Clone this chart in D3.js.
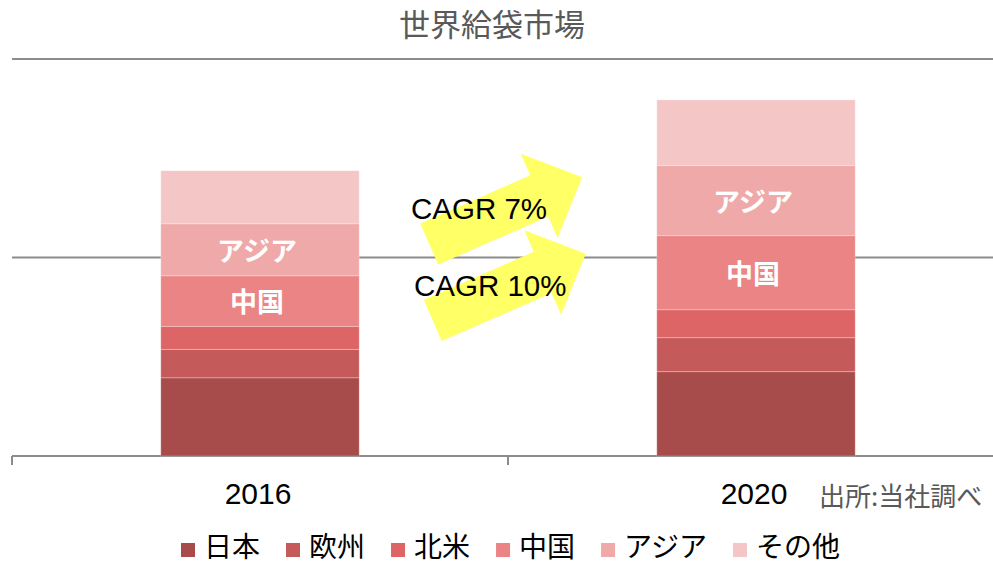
<!DOCTYPE html>
<html>
<head>
<meta charset="utf-8">
<script src="https://cdn.jsdelivr.net/npm/d3@7"></script>
<style>
  body { margin: 0; background: #fff; }
  .grid line { stroke: #8c8c8c; stroke-width: 2; }
  text { font-family: "Noto Sans CJK JP", "Noto Sans", sans-serif; }
  .num { font-family: "Liberation Sans", Arial, sans-serif; }
</style>
</head>
<body>
<div class="chart"></div>
<script>
// chart data
var years = ["2016", "2020"];
var regions = ["日本", "欧州", "北米", "中国", "アジア", "その他"];
var japan  = [39.4, 42.5];
var europe = [14.3, 17.1];
var namer  = [11.6, 14.1];
var china  = [25.5, 37.3];
var asia   = [26.2, 35.3];
var other  = [26.7, 33.1];
var yTicks = [0, 100, 200];
var labelled = ["中国", "アジア"];   // segments with white names inside
var cagrLabels = ["CAGR 7%", "CAGR 10%"];
var cagrFrom = [106.8, 68.3];       // y value at arrow tail
var cagrTo   = [140.6, 101.6];      // y value at arrow tip

var colors = ["#a84b4b", "#c55a5a", "#de6565", "#eb8484", "#f0a9a9", "#f4c6c6"];

function drawChart() {
  var width = 993, height = 565;
  var seriesVals = [japan, europe, namer, china, asia, other];

  var rows = years.map(function(y, i) {
    var r = { year: y };
    regions.forEach(function(k, j) { r[k] = seriesVals[j][i]; });
    return r;
  });

  var x = d3.scaleBand().domain(years).range([12, 1004])
      .paddingInner(0.6).paddingOuter(0.3);
  var y = d3.scaleLinear().domain([0, 200]).range([456, 59]);

  var svg = d3.select(".chart").append("svg")
      .attr("width", width).attr("height", height);

  // title
  svg.append("text")
      .attr("x", 492).attr("y", 36)
      .attr("text-anchor", "middle")
      .style("font-size", "31px")
      .style("fill", "#595959")
      .text("世界給袋市場");

  // gridlines + base axis
  svg.append("g").attr("class", "grid")
    .selectAll("line")
    .data(yTicks)
    .enter().append("line")
      .attr("x1", 12).attr("x2", width)
      .attr("y1", function(d) { return y(d); })
      .attr("y2", function(d) { return y(d); });

  // tick marks between categories
  var step = x.step();
  var bounds = d3.range(years.length).map(function(i) {
    return x(years[0]) - x.paddingOuter() * step + i * step;
  });
  svg.append("g").attr("class", "grid")
    .selectAll("line")
    .data(bounds)
    .enter().append("line")
      .attr("x1", function(d) { return d; })
      .attr("x2", function(d) { return d; })
      .attr("y1", y(0)).attr("y2", y(0) + 9);

  // stacked bars
  var stacked = d3.stack().keys(regions)(rows);
  var layer = svg.append("g").selectAll("g")
    .data(stacked)
    .enter().append("g")
      .attr("fill", function(d, i) { return colors[i]; });

  layer.selectAll("rect")
    .data(function(d) { return d; })
    .enter().append("rect")
      .attr("x", function(d) { return x(d.data.year); })
      .attr("width", x.bandwidth())
      .attr("y", function(d) { return y(d[1]); })
      .attr("height", function(d) { return y(d[0]) - y(d[1]); })
      .attr("stroke", "rgba(255,255,255,0.25)")
      .attr("stroke-width", 1);

  // names inside segments
  layer.filter(function(d) { return labelled.indexOf(d.key) >= 0; })
    .selectAll("text")
    .data(function(d) { return d.map(function(p) { return { p: p, key: d.key }; }); })
    .enter().append("text")
      .attr("x", function(d) { return x(d.p.data.year) + x.bandwidth() / 2 - 3; })
      .attr("y", function(d) { return (y(d.p[0]) + y(d.p[1])) / 2 + 11; })
      .attr("text-anchor", "middle")
      .style("font-size", "27px")
      .style("font-weight", "bold")
      .style("fill", "#fff")
      .text(function(d) { return d.key; });

  // category labels
  svg.selectAll(".cat")
    .data(years)
    .enter().append("text")
      .attr("class", "cat num")
      .attr("x", function(d) { return x(d) + x.bandwidth() / 2 - 2; })
      .attr("y", 504)
      .attr("text-anchor", "middle")
      .style("font-size", "30px")
      .style("fill", "#000")
      .text(function(d) { return d; });

  svg.append("text")
      .attr("x", 819).attr("y", 506)
      .style("font-size", "26px")
      .style("fill", "#595959")
      .text("出所:当社調べ");

  // CAGR arrows
  var L = 167, sw = 22.5, hw = 46, hl = 47;
  var arrowPts = [[0, -sw], [L - hl, -sw], [L - hl, -hw], [L, 0], [L - hl, hw], [L - hl, sw], [0, sw]];
  var x0 = x(years[0]) + x.bandwidth(), x1 = x(years[1]);
  cagrLabels.forEach(function(lab, i) {
    var tx = x0 + 70 + i * 3.5, ty = y(cagrFrom[i]);
    var ex = x1 - 74 + i * 1.5, ey = y(cagrTo[i]);
    var ang = Math.atan2(ey - ty, ex - tx) * 180 / Math.PI;
    svg.append("path")
        .attr("d", d3.line()(arrowPts) + "Z")
        .attr("transform", "translate(" + tx + "," + ty + ") rotate(" + ang + ")")
        .attr("fill", "#ffff66");
  });
  var cagrX = [411, 414], cagrY = [219, 296];
  cagrLabels.forEach(function(lab, i) {
    svg.append("text")
        .attr("class", "num")
        .attr("x", cagrX[i]).attr("y", cagrY[i])
        .style("font-size", "29.5px")
        .style("fill", "#000")
        .text(lab);
  });

  // legend
  var lg = svg.append("g");
  var lx = 181;
  regions.forEach(function(k, i) {
    lg.append("rect")
        .attr("x", lx).attr("y", 543)
        .attr("width", 14).attr("height", 14)
        .attr("fill", colors[i]);
    var t = lg.append("text")
        .attr("x", lx + 23).attr("y", 557)
        .style("font-size", "28px")
        .style("fill", "#000")
        .text(k);
    lx = lx + 23 + t.node().getComputedTextLength() + 26;
  });
}
drawChart();
</script>
</body>
</html>
